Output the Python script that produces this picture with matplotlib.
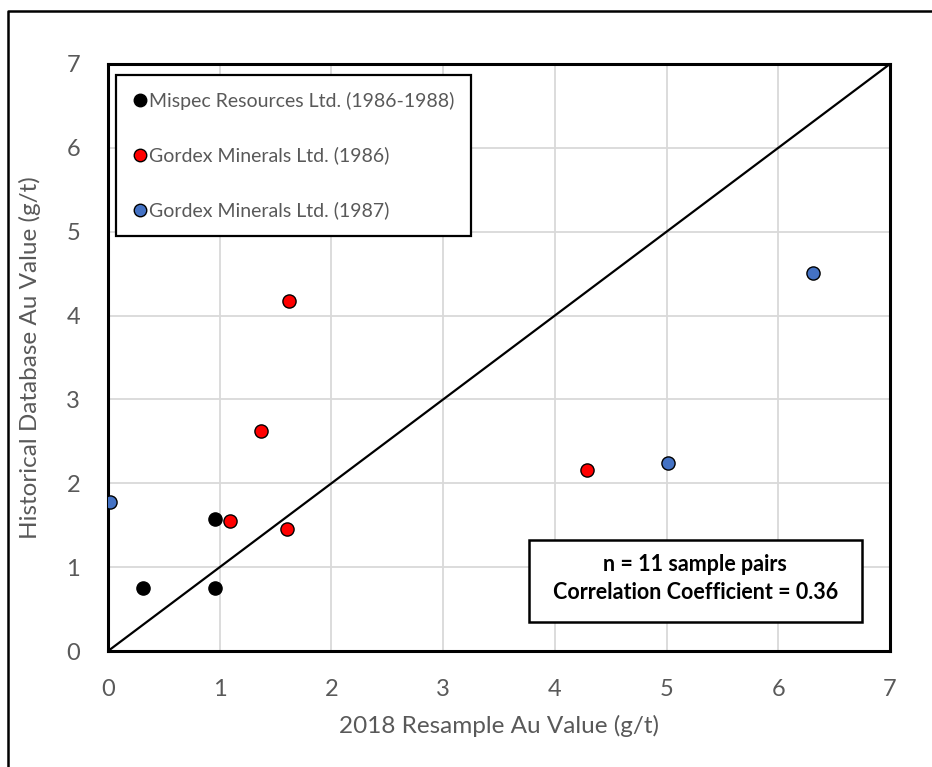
import matplotlib.pyplot as plt
from matplotlib.lines import Line2D
from matplotlib.patches import Rectangle

plt.rcParams['font.family'] = ['Lato', 'DejaVu Sans']

mispec_x = [0.31, 0.96, 0.96]
mispec_y = [0.75, 0.75, 1.57]
gordex86_x = [1.09, 1.605, 1.37, 1.62, 4.29]
gordex86_y = [1.55, 1.45, 2.62, 4.17, 2.16]
gordex87_x = [0.02, 5.01, 6.31]
gordex87_y = [1.78, 2.24, 4.51]
labels = ["Mispec Resources Ltd. (1986-1988)",
          "Gordex Minerals Ltd. (1986)",
          "Gordex Minerals Ltd. (1987)"]
stats_text = "n = 11 sample pairs\nCorrelation Coefficient = 0.36"

grey = "#595959"
fig = plt.figure(figsize=(9.32, 7.67), dpi=100)
ax = fig.add_axes([0.1159, 0.1512, 0.8390, 0.7654])

ax.set_xlim(0, 7)
ax.set_ylim(0, 7)
ax.set_xticks(range(8))
ax.set_yticks(range(8))
ax.grid(color="#d9d9d9", linewidth=1.3)
ax.set_axisbelow(True)
for s in ax.spines.values():
    s.set_linewidth(2.2)
ax.tick_params(length=0, pad=20, labelsize=17, labelcolor=grey)

ax.plot([0, 7], [0, 7], color="black", linewidth=1.6, zorder=2)

ax.scatter(mispec_x, mispec_y, s=90, color="black", edgecolor="black",
           linewidth=1, zorder=3)
ax.scatter(gordex86_x, gordex86_y, s=90, color="#ff0000", edgecolor="black",
           linewidth=1, zorder=3)
ax.scatter(gordex87_x, gordex87_y, s=90, color="#4472c4", edgecolor="black",
           linewidth=1, zorder=3)

ax.set_xlabel("2018 Resample Au Value (g/t)", fontsize=17.5, color=grey, labelpad=11)
ax.set_ylabel("Historical Database Au Value (g/t)", fontsize=17.5, color=grey, labelpad=18)

handles = [Line2D([], [], marker="o", linestyle="none", markersize=9,
                  markerfacecolor=c, markeredgecolor="black")
           for c in ["black", "#ff0000", "#4472c4"]]
leg = ax.legend(handles, labels, loc="upper left", bbox_to_anchor=(0.0102, 0.981),
                borderaxespad=0, fancybox=False, edgecolor="black", framealpha=1,
                fontsize=14, labelspacing=1.9, handletextpad=0.05,
                handlelength=0.8, borderpad=0.85, labelcolor=grey)
leg.get_frame().set_linewidth(1.6)

ax.add_patch(Rectangle((0.538, 0.0494), 0.426, 0.1396, transform=ax.transAxes,
                       facecolor="white", edgecolor="black", linewidth=1.8, zorder=4))
ax.text(0.751, 0.1235, stats_text, transform=ax.transAxes, ha="center", va="center",
        fontsize=15.5, fontweight="bold", linespacing=1.4, zorder=5)

fig.add_artist(Line2D([0.0086, 0.0086, 1.0], [0.0, 0.9857, 0.9857],
                      transform=fig.transFigure, color="black", linewidth=1.8))

fig.savefig("out.png", dpi=100)
